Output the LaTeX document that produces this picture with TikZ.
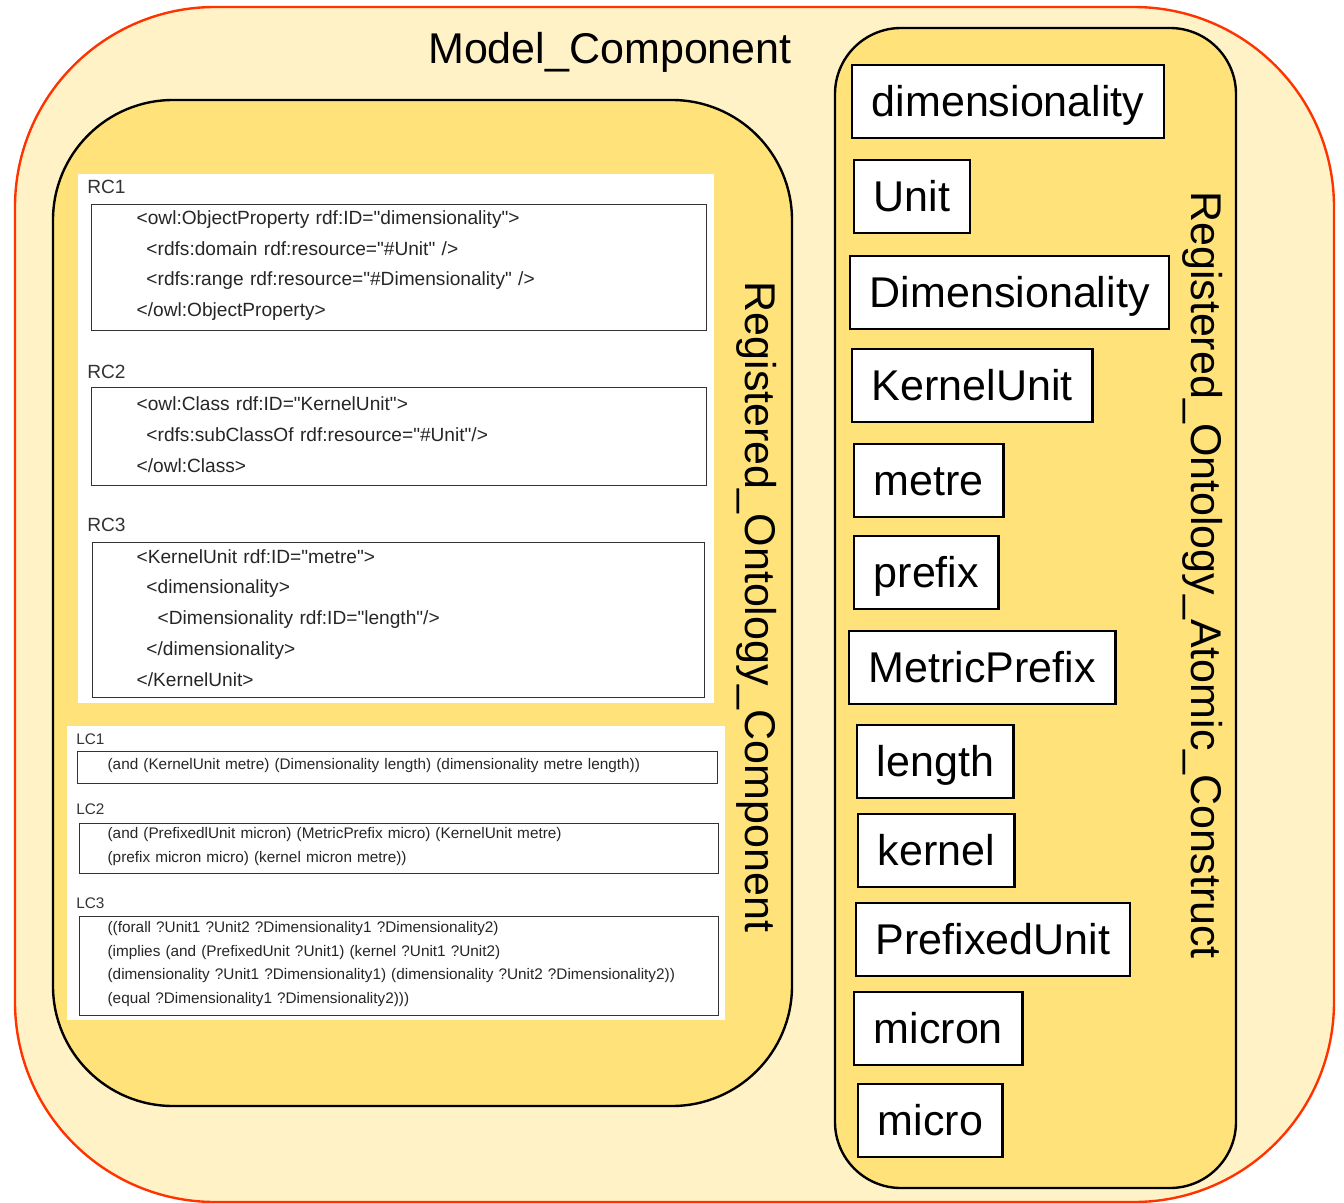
\documentclass[tikz,border=0pt]{standalone}
\usepackage{fontspec}
\setmainfont{Liberation Sans}[Ligatures=TeXOff]
\usetikzlibrary{positioning}
\usepackage{xcolor}
\definecolor{PaleYellow}{RGB}{255,242,198}
\definecolor{SoftGold}{RGB}{255,227,122}
\definecolor{FrameRed}{RGB}{255,51,0}
\newcommand\rcfont{\fontsize{13.6}{22}\selectfont}
\newcommand\lcfont{\fontsize{10.9}{16.7}\selectfont}
\newcommand\bigfont{\fontsize{30.6}{36}\selectfont}

\begin{document}
\begin{tikzpicture}[
          x=0.025cm, y=-0.025cm,
          model/.style={draw=FrameRed, line width=1.7pt, fill=PaleYellow, rounded corners=5cm},
          registry/.style={draw=black, line width=1.7pt, fill=SoftGold},
          panel/.style={fill=white},
          tag/.style={anchor=west, inner sep=0pt, text=black!80},
          code/.style={draw=black!80, line width=0.9pt, fill=white, anchor=north west, inner ysep=0pt, align=left, text=black!85},
          term/.style={draw=black, line width=1.7pt, fill=white, anchor=north west, inner xsep=0.49cm, inner ysep=0pt, text height=1.275cm, text depth=0.55cm, font=\bigfont},
          heading/.style={font=\bigfont}
        ]
          \useasboundingbox (0,0) rectangle (1344,1203);

          % containers
          \draw [model] (15,7) rectangle (1334,1202);
          \draw [registry, rounded corners=3cm] (53,100) rectangle (792,1106);
          \draw [registry, rounded corners=1.65cm] (835,28) rectangle (1236,1188);

          \node (modelcomp) [heading] at (610,52) {Model\_Component};
          \node (regcomp) [heading, rotate=-90] at (757,607) {Registered\_Ontology\_Component};
          \node (regatomic) [heading, rotate=-90] at (1203,575) {Registered\_Ontology\_Atomic\_Construct};

          % RDF constructs
          \fill [panel] (78,174) rectangle (714,703);
          \node (rconetag) [tag, font=\rcfont] at (87,187) {RC1};
          \node (rcone) [code, font=\rcfont, inner xsep=1.125cm, text width=13.125cm, minimum height=3.15cm] at (91,204) {%
            <owl:ObjectProperty rdf:ID="dimensionality">\\
            \hspace*{7pt}<rdfs:domain rdf:resource="\#Unit" />\\
            \hspace*{7pt}<rdfs:range rdf:resource="\#Dimensionality" />\\
            </owl:ObjectProperty>\vspace{3pt}};
          \node (rctwotag) [tag, font=\rcfont] at (87,372) {RC2};
          \node (rctwo) [code, font=\rcfont, inner xsep=1.125cm, text width=13.125cm, minimum height=2.45cm] at (91,387) {%
            <owl:Class rdf:ID="KernelUnit">\\
            \hspace*{7pt}<rdfs:subClassOf rdf:resource="\#Unit"/>\\
            </owl:Class>\vspace{3pt}};
          \node (rcthreetag) [tag, font=\rcfont] at (87,525) {RC3};
          \node (rcthree) [code, font=\rcfont, inner xsep=1.1cm, text width=13.1cm, minimum height=3.875cm] at (92,542) {%
            <KernelUnit rdf:ID="metre">\\
            \hspace*{7pt}<dimensionality>\\
            \hspace*{15pt}<Dimensionality rdf:ID="length"/>\\
            \hspace*{7pt}</dimensionality>\\
            </KernelUnit>\vspace{3pt}};

          % logic constructs
          \fill [panel] (67,726) rectangle (725,1020);
          \node (lconetag) [tag, font=\lcfont] at (76,739) {LC1};
          \node (lcone) [code, font=\lcfont, inner xsep=0.75cm, text width=14.5cm, minimum height=0.8cm] at (77,751) {%
            (and (KernelUnit metre) (Dimensionality length) (dimensionality metre length))\vspace{3pt}};
          \node (lctwotag) [tag, font=\lcfont] at (76,809) {LC2};
          \node (lctwo) [code, font=\lcfont, inner xsep=0.7cm, text width=14.575cm, minimum height=1.25cm] at (79,823) {%
            (and (PrefixedlUnit micron) (MetricPrefix micro) (KernelUnit metre)\\
            (prefix micron micro) (kernel micron metre))\vspace{3pt}};
          \node (lcthreetag) [tag, font=\lcfont] at (76,903) {LC3};
          \node (lcthree) [code, font=\lcfont, inner xsep=0.7cm, text width=14.575cm, minimum height=2.475cm] at (79,916) {%
            ((forall ?Unit1 ?Unit2 ?Dimensionality1 ?Dimensionality2)\\
            (implies (and (PrefixedUnit ?Unit1) (kernel ?Unit1 ?Unit2)\\
            (dimensionality ?Unit1 ?Dimensionality1) (dimensionality ?Unit2 ?Dimensionality2))\\
            (equal ?Dimensionality1 ?Dimensionality2)))\vspace{3pt}};

          % atomic constructs
          \node (dimprop) [term] at (851,64) {dimensionality};
          \node (unitcls) [term] at (853,159) {Unit};
          \node (dimcls) [term] at (849,255) {Dimensionality};
          \node (kernelunit) [term] at (851,348) {KernelUnit};
          \node (metre) [term] at (853,443) {metre};
          \node (prefixprop) [term] at (853,535) {prefix};
          \node (metricprefix) [term] at (848,630) {MetricPrefix};
          \node (length) [term] at (856,724) {length};
          \node (kernelprop) [term] at (857,813) {kernel};
          \node (prefixedunit) [term] at (855,902) {PrefixedUnit};
          \node (micron) [term] at (853,991) {micron};
          \node (micro) [term] at (857,1083) {micro};
        \end{tikzpicture}
\end{document}
